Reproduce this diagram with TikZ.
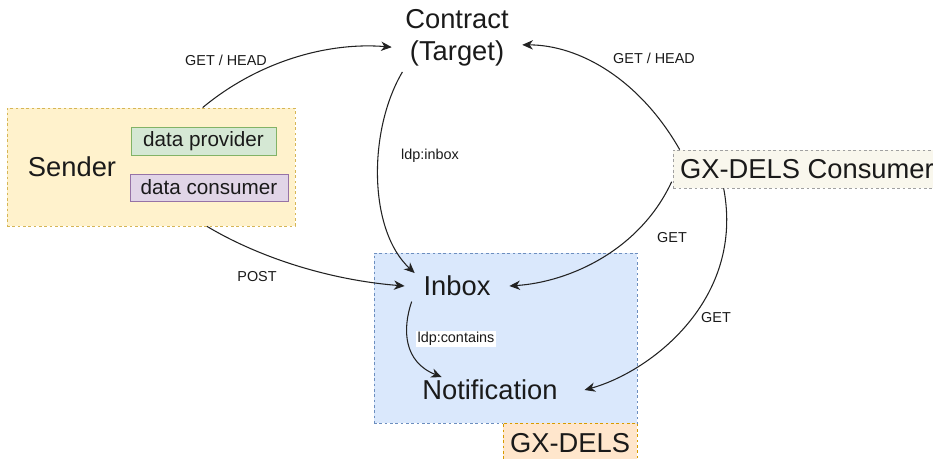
\documentclass[tikz,border=0pt]{standalone}
\usepackage{fontspec}
\setmainfont{Liberation Sans}
\usetikzlibrary{arrows.meta}
\definecolor{txt}{HTML}{1A1A1A}
\definecolor{ln}{HTML}{222222}
\definecolor{sendF}{HTML}{FFF2CC}\definecolor{sendD}{HTML}{D6B656}
\definecolor{provF}{HTML}{D5E8D4}\definecolor{provD}{HTML}{82B366}
\definecolor{consF}{HTML}{E1D5E7}\definecolor{consD}{HTML}{9673A6}
\definecolor{gxcF}{HTML}{F9F7ED}\definecolor{gxcD}{HTML}{A0A0A0}
\definecolor{blueF}{HTML}{DAE8FC}\definecolor{blueD}{HTML}{6C8EBF}
\definecolor{orF}{HTML}{FFE6CC}\definecolor{orD}{HTML}{D79B00}
\tikzset{
  big/.style={font=\fontsize{20.5}{24}\selectfont, text=txt},
  mid/.style={font=\fontsize{15.5}{18}\selectfont, text=txt},
  lbl/.style={font=\fontsize{10.8}{13}\selectfont, text=txt, inner sep=1pt},
  dbox/.style={draw, dash pattern=on 2pt off 2pt, line width=0.6pt},
  sbox/.style={draw, line width=0.7pt},
  arr/.style={draw=ln, line width=0.8pt, -{Stealth[length=8pt,width=7pt,inset=2.5pt]}},
}
\begin{document}
\begin{tikzpicture}[x=0.75pt,y=-0.75pt]
\useasboundingbox (0,0) rectangle (933,459);
\clip (0,0) rectangle (933,459);
% containers
\node[dbox, draw=sendD, fill=sendF, minimum width=216pt, minimum height=88.5pt] (sender) at (151,167) {};
\node[big, anchor=center] (sendertxt) at (72,167) {Sender};
\node[sbox, draw=provD, fill=provF, minimum width=108.75pt, minimum height=20.25pt, mid] (prov) at (203.5,141.5) {data provider};
\node[sbox, draw=consD, fill=consF, minimum width=118.5pt, minimum height=20.25pt, mid] (dcons) at (209,187.5) {data consumer};
\node[dbox, draw=blueD, fill=blueF, minimum width=197.25pt, minimum height=127.5pt] (dels) at (505.5,338) {};
\node[dbox, draw=orD, fill=orF, minimum width=100.5pt, minimum height=30pt, big] (delslbl) at (570,443) {GX-DELS};
\node[dbox, draw=gxcD, fill=gxcF, anchor=west, inner xsep=5pt, minimum height=28.5pt, big] (gxc) at (673,169) {GX-DELS Consumer};
% text nodes
\node[big, align=center, inner xsep=10pt, inner ysep=4pt] (contract) at (457,38) {Contract\\(Target)};
\node[big, inner xsep=14pt, inner ysep=2pt, text height=15pt, text depth=0pt] (inbox) at (457,286) {Inbox};
\node[big, inner xsep=2pt, inner ysep=2pt, text height=15pt, text depth=0pt] (notif) at (490,390) {Notification};
% connectors
\draw[arr] (sender.49) .. controls (260,60) and (330,42) .. (contract.188);
\draw[arr] ([xshift=5pt]gxc.north west) .. controls (640,80) and (580,45) .. (contract.-6);
\draw[arr] ([xshift=8pt]contract.south west) .. controls (368,130) and (368,230) .. (inbox.163);
\draw[arr] ([xshift=42pt]sender.south) .. controls (260,258) and (330,280) .. (inbox.west);
\draw[arr] ([xshift=-1pt,yshift=5pt]gxc.south west) .. controls (640,250) and (570,282) .. (inbox.east);
\draw[arr] ([xshift=38pt]gxc.south west) .. controls (745,300) and (650,372) .. ([xshift=18pt]notif.east);
\draw[arr] ([xshift=-34pt,yshift=-2pt]inbox.south) .. controls (402,330) and (404,362) .. (notif.165);
% labels
\node[lbl] (l1) at (226,60) {GET / HEAD};
\node[lbl] (l2) at (654,58) {GET / HEAD};
\node[lbl] (l3) at (430,156) {ldp:inbox};
\node[lbl] (l4) at (257,277) {POST};
\node[lbl] (l5) at (672,238) {GET};
\node[lbl] (l6) at (716,318) {GET};
\node[lbl, fill=white] (l7) at (456,339) {ldp:contains};
\end{tikzpicture}
\end{document}
